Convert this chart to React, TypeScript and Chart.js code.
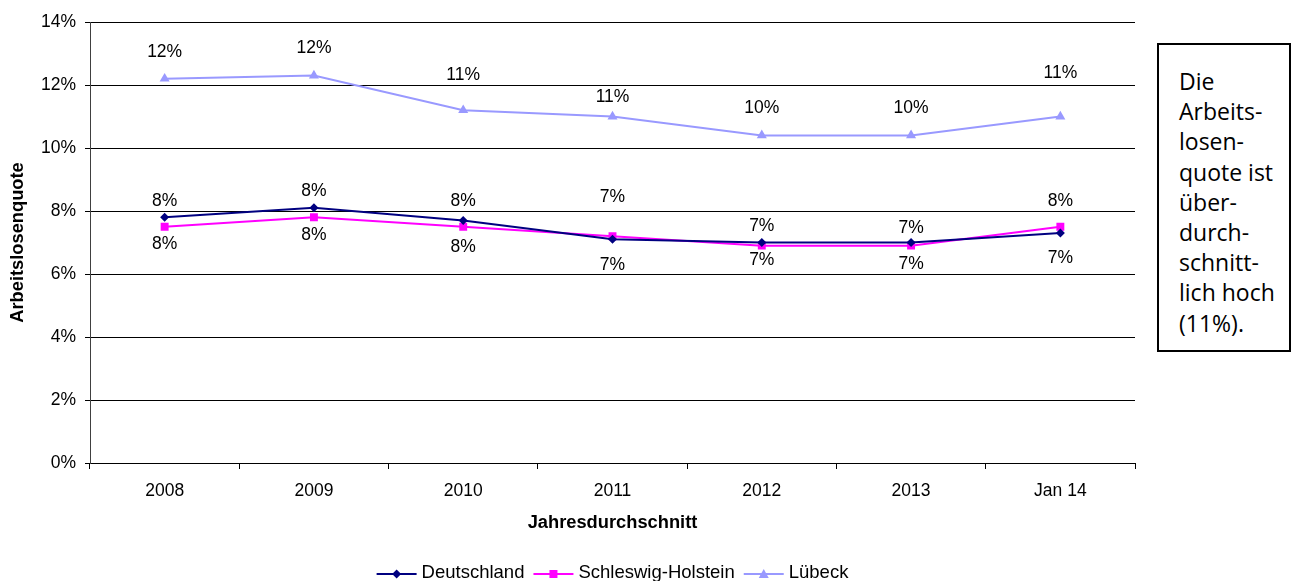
import React, { useEffect, useRef } from "react";
import { Chart, registerables } from "chart.js";

Chart.register(...registerables);

const categories = ["2008", "2009", "2010", "2011", "2012", "2013", "Jan 14"];
const deutschland = [7.8, 8.1, 7.7, 7.1, 7.0, 7.0, 7.3];
const schleswigHolstein = [7.5, 7.8, 7.5, 7.2, 6.9, 6.9, 7.5];
const luebeck = [12.2, 12.3, 11.2, 11.0, 10.4, 10.4, 11.0];
const seriesNames = ["Deutschland", "Schleswig-Holstein", "Lübeck"];
const seriesColors = ["#000080", "#FF00FF", "#9999FF"];
const seriesMarkers = ["rectRot", "rect", "triangle"];

// vertical offsets (px) of the value labels relative to their points
const labelOffsetsD = [-16, -17, -19, 26, -16, -14, 25];
const labelOffsetsSH = [17, 18, 20, -39, 15, 19, -26];
const labelOffsetsL = [-27, -27, -35, -19, -27, -27, -43];
const labelOffsets = [labelOffsetsD, labelOffsetsSH, labelOffsetsL];

const yAxisTitle = "Arbeitslosenquote";
const xAxisTitle = "Jahresdurchschnitt";
const noteLines = ["Die", "Arbeits-", "losen-", "quote ist", "über-", "durch-", "schnitt-", "lich hoch", "(11%)."];

const FONT = "'Liberation Sans', Arial, Helvetica, sans-serif";

function drawMarker(ctx: CanvasRenderingContext2D, kind: string, x: number, y: number, color: string) {
  ctx.fillStyle = color;
  ctx.beginPath();
  if (kind === "rectRot") {
    ctx.moveTo(x, y - 4.5);
    ctx.lineTo(x + 4.5, y);
    ctx.lineTo(x, y + 4.5);
    ctx.lineTo(x - 4.5, y);
  } else if (kind === "rect") {
    ctx.rect(x - 4, y - 4, 8, 8);
  } else {
    ctx.moveTo(x, y - 5);
    ctx.lineTo(x + 5, y + 4);
    ctx.lineTo(x - 5, y + 4);
  }
  ctx.closePath();
  ctx.fill();
}

const customPlugin = {
  id: "customDraw",
  afterDatasetsDraw(chart: any) {
    const ctx: CanvasRenderingContext2D = chart.ctx;
    ctx.save();
    ctx.font = `17.5px ${FONT}`;
    ctx.fillStyle = "#000";
    ctx.textAlign = "center";
    ctx.textBaseline = "middle";
    chart.data.datasets.forEach((ds: any, i: number) => {
      const meta = chart.getDatasetMeta(i);
      const offs = labelOffsets[i];
      meta.data.forEach((pt: any, j: number) => {
        const v = ds.data[j] as number;
        ctx.fillText(Math.round(v) + "%", pt.x, pt.y + offs[j]);
      });
    });
    ctx.restore();
  },
  afterDraw(chart: any) {
    const ctx: CanvasRenderingContext2D = chart.ctx;
    const area = chart.chartArea;
    const cx = (area.left + area.right) / 2;
    ctx.save();
    // axis titles
    ctx.fillStyle = "#000";
    ctx.font = `bold 18.3px ${FONT}`;
    ctx.textAlign = "center";
    ctx.textBaseline = "middle";
    ctx.fillText(xAxisTitle, cx, 523);
    ctx.save();
    ctx.translate(18, (area.top + area.bottom) / 2);
    ctx.rotate(-Math.PI / 2);
    ctx.fillText(yAxisTitle, 0, 0);
    ctx.restore();
    // legend
    ctx.font = `18.5px ${FONT}`;
    ctx.textAlign = "left";
    const lineLen = 40;
    const gapText = 5;
    const gapItem = 9;
    const widths = seriesNames.map((n) => lineLen + gapText + ctx.measureText(n).width);
    const total = widths.reduce((a, b) => a + b, 0) + gapItem * (seriesNames.length - 1);
    let x = cx - total / 2;
    const ly = 574;
    seriesNames.forEach((name, i) => {
      ctx.strokeStyle = seriesColors[i];
      ctx.lineWidth = 2;
      ctx.beginPath();
      ctx.moveTo(x, ly);
      ctx.lineTo(x + lineLen, ly);
      ctx.stroke();
      drawMarker(ctx, seriesMarkers[i], x + lineLen / 2, ly, seriesColors[i]);
      ctx.fillStyle = "#000";
      ctx.fillText(name, x + lineLen + gapText, ly - 1);
      x += widths[i] + gapItem;
    });
    ctx.restore();
  },
};

export default function App() {
  const canvasRef = useRef<HTMLCanvasElement | null>(null);

  useEffect(() => {
    if (!canvasRef.current) return;
    Chart.defaults.font.family = FONT;
    Chart.defaults.font.size = 17;
    Chart.defaults.color = "#000";
    const values = [deutschland, schleswigHolstein, luebeck];
    const chart = new Chart(canvasRef.current, {
      type: "line",
      data: {
        labels: categories,
        datasets: seriesNames.map((name, i) => ({
          label: name,
          data: values[i],
          borderColor: seriesColors[i],
          backgroundColor: seriesColors[i],
          pointBackgroundColor: seriesColors[i],
          pointBorderColor: seriesColors[i],
          pointStyle: seriesMarkers[i] as any,
          pointRadius: i === 0 ? 4.5 : i === 1 ? 5.6 : 5.8,
          pointBorderWidth: 0,
          borderWidth: 2,
          tension: 0,
          fill: false,
        })),
      },
      options: {
        animation: false,
        responsive: false,
        maintainAspectRatio: false,
        events: [],
        layout: { padding: { left: 0, right: 157, top: 22, bottom: 0 } },
        plugins: {
          legend: { display: false },
          tooltip: { enabled: false },
          title: { display: false },
        },
        scales: {
          x: {
            type: "category",
            offset: true,
            grid: {
              offset: true,
              drawOnChartArea: false,
              drawTicks: true,
              tickLength: 6,
              color: "#000",
            },
            border: { color: "#000", width: 1 },
            ticks: { padding: 12, color: "#000", font: { size: 17.5, family: FONT }, maxRotation: 0 },
            afterFit: (scale: any) => {
              scale.height = 118;
            },
          },
          y: {
            min: 0,
            max: 14,
            grid: {
              color: "#000",
              lineWidth: 1,
              tickLength: 5,
              drawTicks: true,
            },
            border: { color: "#404040", width: 1 },
            ticks: {
              stepSize: 2,
              padding: 9,
              color: "#000",
              font: { size: 17.5, family: FONT },
              callback: (v: any) => `${v}%`,
            },
            afterFit: (scale: any) => {
              scale.width = 90;
            },
          },
        },
      },
      plugins: [customPlugin],
    } as any);
    return () => chart.destroy();
  }, []);

  return (
    <div style={{ position: "fixed", left: 0, top: 0, width: 1292, height: 581, background: "#fff" }}>
      <canvas ref={canvasRef} width={1292} height={581} style={{ display: "block", width: 1292, height: 581 }} />
      <div
        style={{
          position: "absolute",
          left: 1157,
          top: 43,
          width: 134,
          height: 309,
          boxSizing: "border-box",
          border: "2px solid #000",
          background: "#fff",
          paddingLeft: 20,
          paddingTop: 21,
          fontFamily: "'Open Sans', 'Noto Sans', sans-serif",
          fontSize: 23,
          lineHeight: "30.2px",
          color: "#000",
          whiteSpace: "nowrap",
        }}
      >
        {noteLines.map((l, i) => (
          <div key={i}>{l}</div>
        ))}
      </div>
    </div>
  );
}
